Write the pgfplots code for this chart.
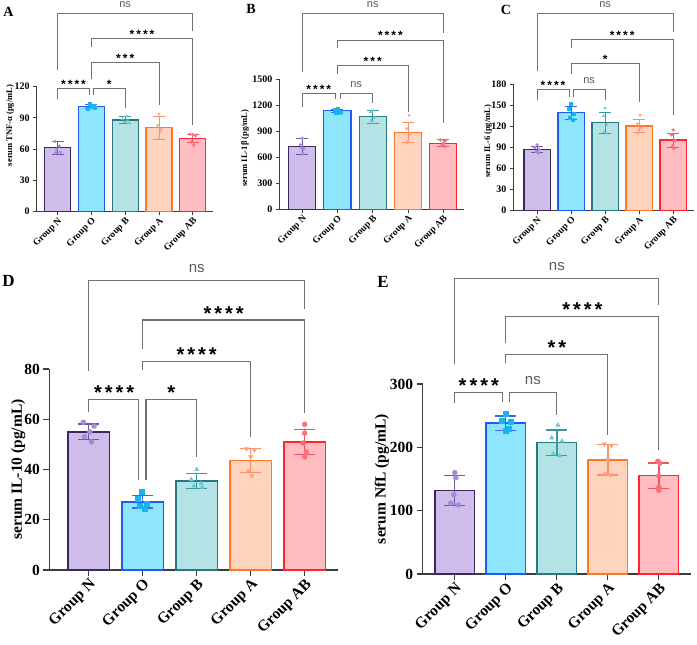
\documentclass[border=0pt]{standalone}
\usepackage{fontspec}
\setmainfont{Liberation Serif}
\newfontfamily\arialf{Liberation Sans}
\usepackage{pgfplots}
\pgfplotsset{compat=1.18}

% group colours: fill (F), edge (E), points (P), error bars (R)
\definecolor{nF}{HTML}{CEBDEA}\definecolor{nE}{HTML}{3B2860}\definecolor{nP}{HTML}{A78BD8}\definecolor{nR}{HTML}{6E56A8}
\definecolor{oF}{HTML}{8DE5FE}\definecolor{oE}{HTML}{1F5AF6}\definecolor{oP}{HTML}{18B3F0}\definecolor{oR}{HTML}{3370E8}
\definecolor{bF}{HTML}{B4E3E5}\definecolor{bE}{HTML}{277880}\definecolor{bP}{HTML}{6BCAD0}\definecolor{bR}{HTML}{3C98A0}
\definecolor{aF}{HTML}{FFD4BF}\definecolor{aE}{HTML}{FF7828}\definecolor{aP}{HTML}{FFA07E}\definecolor{aR}{HTML}{FF8E62}
\definecolor{abF}{HTML}{FFBDC1}\definecolor{abE}{HTML}{FF2530}\definecolor{abP}{HTML}{F4737C}\definecolor{abR}{HTML}{F5505C}
\definecolor{axc}{HTML}{3C3C3C}\definecolor{brc}{HTML}{707070}

% one group: bar (mean), individual values, SD error bar
% #1 colour prefix, #2 x, #3 mean, #4 sd, #5 marker options, #6 points
\newcommand{\grp}[6]{%
  \addplot[ybar, bar shift=0pt, bar width=0.77, fill=#1F, draw=#1E, line width=\barlw] coordinates {(#2,#3)};
  \addplot[only marks, color=#1P, mark size=\ptsz, #5] coordinates {#6};
  \addplot[forget plot, draw=none, mark=none, error bars/.cd, y dir=both, y explicit,
    error bar style={draw=#1R, solid, line width=\errlw},
    error mark=-, error mark options={draw=#1R, solid, line width=\errlw, mark size=\capsz, rotate=90}]
    coordinates {(#2,#3) +- (0,#4)};
}
% significance bracket: x1, x2, height, left leg end, right leg end
\newcommand{\brk}[5]{\addplot[brc, line width=\brlw, mark=none] coordinates {(#1,#4) (#1,#3) (#2,#3) (#2,#5)};}
\newcommand{\stars}[2]{\node[anchor=base, inner sep=0pt, font=\starfont] at (axis cs:#1,#2)}
\newcommand{\ns}[2]{\node[anchor=base, inner sep=0pt, yshift=\nsgap, text=brc!80!black, font=\nsfont] at (axis cs:#1,#2) {ns};}

\pgfplotsset{
  panel/.style={
    scale only axis, anchor=south west, clip=false,
    axis x line*=bottom, axis y line*=left,
    axis line style={-, axc},
    tick align=outside, tick style={axc},
    xtick={0,1,2,3,4},
    xticklabels={Group N, Group O, Group B, Group A, Group AB},
    xticklabel style={rotate=45, anchor=north east, inner sep=1pt},
    ymin=0,
    /pgf/number format/assume math mode=true,
    /pgf/number format/1000 sep={},
    ylabel style={anchor=center},
  },
  smallp/.style={
    axis line style={line width=0.9pt}, tick style={line width=0.9pt},
    major tick length=3.5pt,
    xticklabel style={font=\bfseries\fontsize{9.5}{10}\selectfont},
    yticklabel style={font=\bfseries\fontsize{10}{10}\selectfont},
    ylabel style={font=\bfseries\fontsize{8.5}{9}\selectfont},
  },
  bigp/.style={
    axis line style={line width=1.2pt}, tick style={line width=1.2pt},
    major tick length=6pt,
    xticklabel style={font=\bfseries\fontsize{15.5}{16}\selectfont},
    yticklabel style={font=\bfseries\fontsize{15.5}{16}\selectfont},
    ylabel style={font=\bfseries\fontsize{15.5}{16}\selectfont},
  },
}

\begin{document}
\begin{tikzpicture}
\path[use as bounding box] (0,0) rectangle (697pt,645pt);

% ---------- small panels ----------
\def\barlw{1.1pt}\def\ptsz{1.5pt}\def\errlw{0.9pt}\def\capsz{6pt}\def\brlw{0.8pt}
\def\starfont{\arialf\bfseries\fontsize{12}{12}\selectfont}
\def\nsfont{\arialf\fontsize{11}{11}\selectfont}\def\nsgap{5.5pt}

% A: TNF-alpha
\begin{axis}[panel, smallp, at={(36.7pt,433.3pt)}, width=176.3pt, height=125pt,
  xmin=-0.62, xmax=4.6, ymax=120, ytick={0,30,60,90,120},
  ylabel={serum TNF-α (pg/mL)}, ylabel style={at={(axis description cs:-0.151,0.69)}}]
\grp{n}{0}{61.4}{6}{mark=*}{(-0.08,67.5)(0.05,63)(-0.03,60)(0.08,57)(-0.06,56.5)}
\grp{o}{1}{100.8}{2}{mark=square*}{(0.95,104)(1.06,102)(0.98,100.5)(1.1,99.5)(0.9,98.5)}
\grp{b}{2}{88}{3}{mark=triangle*}{(2.05,91.5)(1.92,89)(2.08,87.5)(1.97,86)(2.1,85)}
\grp{a}{3}{80.6}{11}{mark=triangle*, mark options={rotate=180}}{(3,94)(2.96,83)(3.04,77)(3,70)(3.06,79)}
\grp{ab}{4}{70.4}{4}{mark=*}{(3.92,74.5)(4,74)(4.08,73)(3.97,67)(4.03,64)}
\brk{0}{0.94}{118.4}{108}{112}
\brk{1.07}{2}{118.4}{112}{99.5}
\brk{1}{3}{143}{127}{102}
\brk{1}{4}{166.4}{158}{83}
\brk{0}{4}{190.4}{136}{173}
\stars{0.47}{118.4}{*\kern2pt*\kern2pt*\kern2pt*};
\stars{1.53}{118.4}{*};
\stars{2}{143}{*\kern2pt*\kern2pt*};
\stars{2.5}{166.4}{*\kern2pt*\kern2pt*\kern2pt*};
\ns{2}{190.4}
\end{axis}

% B: IL-1beta
\begin{axis}[panel, smallp, at={(279.3pt,435.7pt)}, width=185.1pt, height=130pt,
  xmin=-0.65, xmax=4.6, ymax=1500, ytick={0,300,600,900,1200,1500},
  ylabel={serum IL-1β (pg/mL)}, ylabel style={at={(axis description cs:-0.185,0.47)}}]
\grp{n}{0}{723}{95}{mark=*}{(0,820)(-0.05,745)(0.04,700)(0.02,640)(-0.03,710)}
\grp{o}{1}{1135}{20}{mark=square*}{(1,1165)(0.92,1150)(1.08,1130)(0.96,1120)(1.05,1110)}
\grp{b}{2}{1069}{75}{mark=triangle*}{(2.02,1140)(1.93,1120)(2.06,1060)(2,1000)(1.95,1025)}
\grp{a}{3}{885}{115}{mark=triangle*, mark options={rotate=180}}{(3.03,1085)(2.96,930)(3.04,860)(3,780)(2.97,770)}
\grp{ab}{4}{762}{40}{mark=*}{(3.92,800)(4.06,790)(4,760)(3.95,735)(4.04,725)}
\brk{0}{0.94}{1338}{1185}{1270}
\brk{1.07}{2}{1338}{1270}{1223}
\brk{1}{3}{1658}{1561}{1127}
\brk{1}{4}{1954}{1858}{992}
\brk{0}{4}{2261}{1580}{2030}
\stars{0.47}{1338}{*\kern2pt*\kern2pt*\kern2pt*};
\ns{1.53}{1338}
\stars{2}{1658}{*\kern2pt*\kern2pt*};
\stars{2.5}{1954}{*\kern2pt*\kern2pt*\kern2pt*};
\ns{2}{2261}
\end{axis}

% C: IL-6
\begin{axis}[panel, smallp, at={(513.3pt,434.3pt)}, width=180.2pt, height=126.4pt,
  xmin=-0.7, xmax=4.6, ymax=180, ytick={0,30,60,90,120,150,180},
  ylabel={serum IL-6 (pg/mL)}, ylabel style={at={(axis description cs:-0.14,0.55)}}]
\grp{n}{0}{87.4}{4}{mark=*}{(0,94)(-0.07,90)(0.06,87)(-0.03,84)(0.04,82)}
\grp{o}{1}{139.6}{9}{mark=square*}{(1,152)(0.93,145)(1.07,138)(0.97,133)(1.04,130)}
\grp{b}{2}{125}{15}{mark=triangle*}{(2,146)(1.95,135)(2.05,122)(1.97,112)(2.03,110)}
\grp{a}{3}{120.6}{9}{mark=triangle*, mark options={rotate=180}}{(3.03,136)(2.95,124)(3.06,118)(3,115)(2.97,110)}
\grp{ab}{4}{100.7}{10}{mark=*}{(4,115)(3.95,108)(4.05,100)(3.98,92)(4.02,88.5)}
\brk{0}{0.94}{172.9}{157.7}{162.4}
\brk{1.07}{2}{172.9}{162.4}{157.7}
\brk{1}{3}{209.9}{194.7}{155}
\brk{1}{4}{244}{231}{136}
\brk{0}{4}{281}{199}{255}
\stars{0.47}{172.9}{*\kern2pt*\kern2pt*\kern2pt*};
\ns{1.53}{172.9}
\stars{2}{209.9}{*};
\stars{2.5}{244}{*\kern2pt*\kern2pt*\kern2pt*};
\ns{2}{281}
\end{axis}

% ---------- large panels ----------
\def\barlw{1.7pt}\def\ptsz{2.5pt}\def\errlw{1.3pt}\def\capsz{10.5pt}\def\brlw{1.1pt}
\def\starfont{\arialf\bfseries\fontsize{20}{20}\selectfont}
\def\nsfont{\arialf\fontsize{15}{15}\selectfont}\def\nsgap{8pt}

% D: IL-10
\begin{axis}[panel, bigp, at={(49.3pt,75pt)}, width=288.9pt, height=201pt,
  xmin=-0.73, xmax=4.62, ymax=80, ytick={0,20,40,60,80},
  ylabel={serum IL-10 (pg/mL)}, ylabel style={at={(axis description cs:-0.108,0.5)}}]
\grp{n}{0}{55}{3.1}{mark=*}{(-0.1,58.8)(0.1,57.3)(0.02,55)(-0.08,53)(0.05,51)}
\grp{o}{1}{27.2}{2.5}{mark=square*}{(0.99,31)(0.9,28.5)(1.08,26.5)(0.95,25.5)(1.04,24.5)}
\grp{b}{2}{35.4}{3}{mark=triangle*}{(2,40)(1.9,36)(2.08,34.5)(1.95,33.5)(2.1,33)}
\grp{a}{3}{43.6}{4.7}{mark=triangle*, mark options={rotate=180}}{(2.92,48.2)(3.07,47.8)(3,45)(2.95,39.5)(3.02,37.5)}
\grp{ab}{4}{51}{5}{mark=*}{(4,58)(4,54.5)(3.97,50.5)(4.03,47)(4,45)}
\brk{0}{0.93}{67.7}{63}{36}
\brk{1.06}{2}{67.7}{36}{45}
\brk{1}{3}{82.9}{79.6}{53}
\brk{1}{4}{99.5}{87.8}{62.4}
\brk{0}{4}{115.4}{79.4}{103.9}
\stars{0.47}{67.7}{*\kern3pt*\kern3pt*\kern3pt*};
\stars{1.53}{67.7}{*};
\stars{2}{82.9}{*\kern3pt*\kern3pt*\kern3pt*};
\stars{2.5}{99.5}{*\kern3pt*\kern3pt*\kern3pt*};
\ns{2}{115.4}
\end{axis}

% E: NfL
\begin{axis}[panel, bigp, at={(422.7pt,71pt)}, width=268.3pt, height=190pt,
  xmin=-0.63, xmax=4.63, ymax=300, ytick={0,100,200,300},
  ylabel={serum NfL (pg/mL)}, ylabel style={at={(axis description cs:-0.152,0.5)}}]
\grp{n}{0}{131.6}{23.7}{mark=*}{(0,160)(0.02,152)(-0.02,125)(-0.08,112)(0.07,109)}
\grp{o}{1}{237.9}{11.6}{mark=square*}{(1,253)(0.92,242)(1.09,240)(1,226)(1.05,229)}
\grp{b}{2}{207.4}{20}{mark=triangle*}{(2.02,235)(1.9,215)(2.1,210)(1.93,190)(2.05,187)}
\grp{a}{3}{180.5}{24}{mark=triangle*, mark options={rotate=180}}{(2.93,205)(3.07,203)(3,180)(2.95,158)(3.05,156.5)}
\grp{ab}{4}{155.3}{20}{mark=*}{(3.98,178)(4.02,175)(4,155)(4,137)(4,132)}
\brk{0}{0.93}{286.8}{270.5}{272}
\brk{1.07}{2}{286.8}{272}{251}
\brk{1}{3}{346.8}{332.6}{220}
\brk{1}{4}{406}{364}{195}
\brk{0}{4}{466.8}{331}{424.7}
\stars{0.47}{286.8}{*\kern3pt*\kern3pt*\kern3pt*};
\ns{1.53}{286.8}
\stars{2}{346.8}{*\kern3pt*};
\stars{2.5}{406}{*\kern3pt*\kern3pt*\kern3pt*};
\ns{2}{466.8}
\end{axis}

% panel letters
\node[font=\bfseries\fontsize{14}{14}\selectfont] at (8.5pt,633pt) {A};
\node[font=\bfseries\fontsize{14}{14}\selectfont] at (251pt,636pt) {B};
\node[font=\bfseries\fontsize{14}{14}\selectfont] at (506pt,635pt) {C};
\node[font=\bfseries\fontsize{17}{17}\selectfont] at (8.5pt,364pt) {D};
\node[font=\bfseries\fontsize{17}{17}\selectfont] at (383pt,363pt) {E};
\end{tikzpicture}
\end{document}
